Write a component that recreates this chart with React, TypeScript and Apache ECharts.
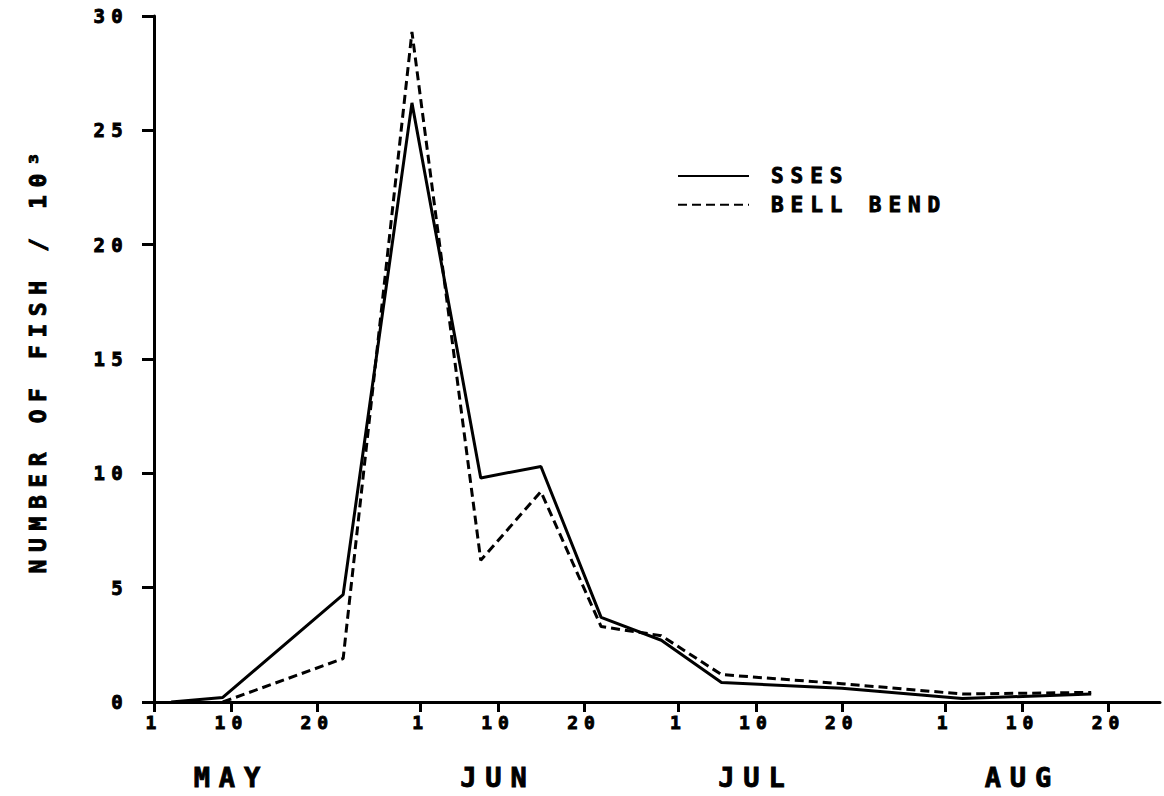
import React, { useEffect, useRef } from "react";
import * as echarts from "echarts";

// Day index counted from 1 May (0 = May 1)
const DAY_COUNT = 118;
const MONTHS = ["MAY", "JUN", "JUL", "AUG"];
const MONTH_START = [0, 31, 61, 92];
const MONTH_LABEL_DAYS = [9, 40, 70, 101];
const TICK_DAYS = [0, 9, 19, 31, 40, 50, 61, 70, 80, 92, 101, 111];
const TICK_LABELS = ["1", "10", "20", "1", "10", "20", "1", "10", "20", "1", "10", "20"];

// Catch, thousands of fish
const SSES_DAYS = [2, 8, 22, 30, 38, 45, 52, 59, 66, 80, 94, 109];
const SSES_VALUES = [0, 0.2, 4.7, 26.2, 9.8, 10.3, 3.7, 2.7, 0.85, 0.6, 0.15, 0.35];
const BELL_DAYS = [8, 22, 30, 38, 45, 52, 59, 66, 80, 94, 109];
const BELL_VALUES = [0, 1.9, 29.3, 6.2, 9.2, 3.3, 2.9, 1.2, 0.8, 0.35, 0.42];

const Y_TICKS = [0, 5, 10, 15, 20, 25, 30];

const FONT = "'DejaVu Sans Mono', monospace";
// heavier plotter-style lettering
const INK = { color: "#000", textBorderColor: "#000", textBorderWidth: 0.9 };

export default function App() {
  const ref = useRef<HTMLDivElement>(null);

  useEffect(() => {
    document.body.style.margin = "0";
    if (!ref.current) return;
    const chart = echarts.init(ref.current, null, { renderer: "svg" });
    const days = Array.from({ length: DAY_COUNT }, (_, i) => String(i));

    const tickSet = new Set(TICK_DAYS);
    const monthSet = new Set(MONTH_LABEL_DAYS);

    chart.setOption({
      animation: false,
      backgroundColor: "#fff",
      grid: { left: 154, right: 4, top: 16, bottom: 94, containLabel: false },
      legend: {
        orient: "vertical",
        left: 672,
        top: 160,
        itemWidth: 71,
        itemHeight: 14,
        itemGap: 7,
        data: ["SSES", "BELL BEND"],
        itemStyle: { opacity: 0, borderWidth: 0 },
        textStyle: {
          fontFamily: FONT,
          fontWeight: "bold",
          fontSize: 21,
          padding: [0, 0, 0, 17],
          ...INK,
        },
      },
      xAxis: [
        {
          type: "category",
          data: days,
          boundaryGap: false,
          axisLine: { lineStyle: { color: "#000", width: 3 } },
          axisTick: {
            interval: (i: number) => tickSet.has(i),
            length: 10,
            lineStyle: { color: "#000", width: 3 },
          },
          axisLabel: {
            interval: (i: number) => tickSet.has(i),
            formatter: (v: string) => {
              const k = TICK_DAYS.indexOf(Number(v));
              return k >= 0 ? TICK_LABELS[k] : "";
            },
            margin: 11,
            fontFamily: FONT,
            fontWeight: "bold",
            fontSize: 18,
            ...INK,
          },
          splitLine: { show: false },
        },
        {
          type: "category",
          data: days,
          position: "bottom",
          boundaryGap: false,
          axisLine: { show: false },
          axisTick: { show: false },
          axisLabel: {
            interval: (i: number) => monthSet.has(i),
            formatter: (v: string) => {
              const d = Number(v);
              let m = 0;
              for (let k = 0; k < MONTH_START.length; k++) if (d >= MONTH_START[k]) m = k;
              return MONTHS[m];
            },
            margin: 62,
            fontFamily: FONT,
            fontWeight: "bold",
            fontSize: 27,
            ...INK,
          },
          splitLine: { show: false },
        },
      ],
      yAxis: {
        type: "value",
        min: Y_TICKS[0],
        max: Y_TICKS[Y_TICKS.length - 1],
        interval: 5,
        name: "NUMBER OF FISH / 10³",
        nameLocation: "middle",
        nameGap: 105,
        nameTextStyle: {
          fontFamily: FONT,
          fontWeight: "bold",
          fontSize: 23,
          ...INK,
        },
        axisLine: { show: true, lineStyle: { color: "#000", width: 3 } },
        axisTick: { show: true, length: 12, lineStyle: { color: "#000", width: 3 } },
        axisLabel: {
          margin: 25,
          fontFamily: FONT,
          fontWeight: "bold",
          fontSize: 19,
          ...INK,
        },
        splitLine: { show: false },
      },
      series: [
        {
          name: "SSES",
          type: "line",
          xAxisIndex: 0,
          symbol: "none",
          data: SSES_DAYS.map((d, i) => [d, SSES_VALUES[i]]),
          lineStyle: { color: "#000", width: 3, type: "solid" },
          itemStyle: { color: "#000" },
        },
        {
          name: "BELL BEND",
          type: "line",
          xAxisIndex: 0,
          symbol: "none",
          data: BELL_DAYS.map((d, i) => [d, BELL_VALUES[i]]),
          lineStyle: { color: "#000", width: 3, type: [9, 5] },
          itemStyle: { color: "#000" },
        },
      ],
    });

    return () => chart.dispose();
  }, []);

  return (
    <>
      <style>{`.fish-chart text { letter-spacing: 0.33em; }`}</style>
      <div className="fish-chart" ref={ref} style={{ width: 1164, height: 796 }} />
    </>
  );
}
